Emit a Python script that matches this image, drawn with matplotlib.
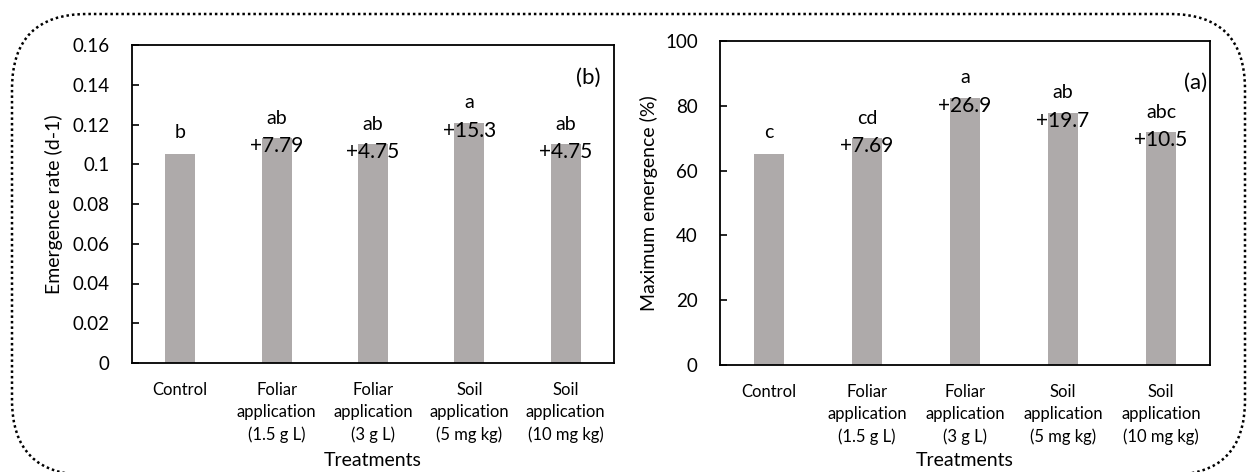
import matplotlib
matplotlib.use("Agg")
import matplotlib.pyplot as plt
import matplotlib.transforms as mtrans
from matplotlib.patches import FancyBboxPatch

plt.rcParams["font.family"] = ["Lato", "DejaVu Sans"]

# data
categories = ["Control", "Foliar\napplication\n(1.5 g L)", "Foliar\napplication\n(3 g L)",
              "Soil\napplication\n(5 mg kg)", "Soil\napplication\n(10 mg kg)"]
rate = [0.105, 0.1132, 0.110, 0.121, 0.110]
rate_letters = ["b", "ab", "ab", "a", "ab"]
rate_change = ["", "+7.79", "+4.75", "+15.3", "+4.75"]
emerg = [65.0, 70.0, 82.5, 77.8, 71.8]
emerg_letters = ["c", "cd", "a", "ab", "abc"]
emerg_change = ["", "+7.69", "+26.9", "+19.7", "+10.5"]

BAR = "#aeaaaa"
W, H = 1247, 472


def panel(ax, vals, letters, changes, ylim, step, ylabel, ylab_x, tag, tag_xy):
    x = range(len(vals))
    ax.bar(x, vals, width=0.31, color=BAR)
    ax.set_xlim(-0.5, len(vals) - 0.5)
    ax.set_ylim(*ylim)
    n = int(round((ylim[1] - ylim[0]) / step))
    ax.set_yticks([ylim[0] + step * k for k in range(n + 1)])
    ax.set_xticks(list(x))
    ax.set_xticklabels(categories, fontsize=12, linespacing=1.45)
    ax.tick_params(axis="x", length=0, pad=14)
    ax.tick_params(axis="y", direction="in", length=5, width=1.2, labelsize=13.5, pad=16)
    for s in ax.spines.values():
        s.set_linewidth(1.3)
    ax.set_ylabel(ylabel, fontsize=14)
    ax.yaxis.set_label_coords(ylab_x, 0.5)
    for i, v in enumerate(vals):
        if changes[i]:
            ax.annotate(changes[i], (i, v), xytext=(0, -8), textcoords="offset pixels",
                        ha="center", va="center", fontsize=15)
            ax.annotate(letters[i], (i, v), xytext=(0, 20), textcoords="offset pixels",
                        ha="center", va="center", fontsize=14)
        else:
            ax.annotate(letters[i], (i, v), xytext=(0, 22), textcoords="offset pixels",
                        ha="center", va="center", fontsize=14)
    ax.text(tag_xy[0], tag_xy[1], tag, transform=ax.transAxes, ha="right", va="center", fontsize=16)


fig = plt.figure(figsize=(W / 100, H / 100), dpi=100)

ax1 = fig.add_axes([132 / W, 1 - 363 / H, 482 / W, 318 / H])
panel(ax1, rate, rate_letters, rate_change, (0, 0.16), 0.02,
      "Emergence rate (d-1)", -0.143, "(b)", (0.971, 0.896))
ax1.set_yticklabels(["0", "0.02", "0.04", "0.06", "0.08", "0.1", "0.12", "0.14", "0.16"])

ax2 = fig.add_axes([720 / W, 1 - 365 / H, 490 / W, 324 / H])
panel(ax2, emerg, emerg_letters, emerg_change, (0, 100), 20,
      "Maximum emergence (%)", -0.127, "(a)", (0.994, 0.870))

fig.text(373 / W, 1 - 460 / H, "Treatments", ha="center", va="center", fontsize=14)
fig.text(965 / W, 1 - 460 / H, "Treatments", ha="center", va="center", fontsize=14)

# dotted rounded frame around both panels (pixel units, origin bottom-left)
px = mtrans.Affine2D().scale(1 / W, 1 / H) + fig.transFigure
frame = FancyBboxPatch((12, H - 475), 1233, 461,
                       boxstyle="round,pad=0,rounding_size=75",
                       transform=px, fill=False, edgecolor="black",
                       linestyle=(0, (1, 1.2)), linewidth=1.8)
fig.patches.append(frame)

fig.savefig("out.png", dpi=100)
